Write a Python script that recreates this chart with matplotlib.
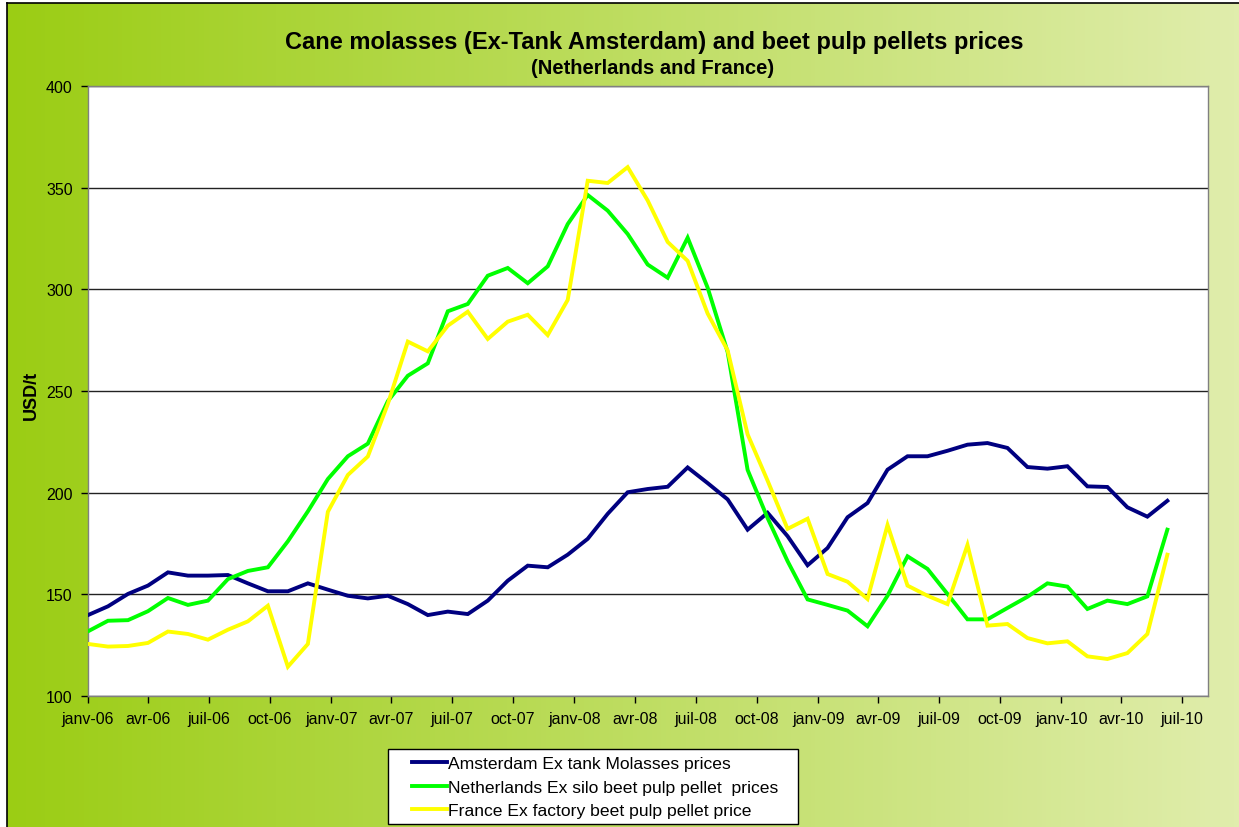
import numpy as np
import pandas as pd
import matplotlib
matplotlib.use("Agg")
import matplotlib.pyplot as plt
from matplotlib.lines import Line2D
from matplotlib.patches import Rectangle

plt.rcParams['font.family'] = ['Liberation Sans', 'DejaVu Sans']

# Données (USD/t), un point tous les ~30 jours depuis janv-06
dates = pd.date_range('2006-01-01', periods=55, freq='30D')

molasses_ams = [139.8, 144.1, 150.2, 154.3, 160.8, 159.2, 159.2, 159.5, 155.4, 151.5,
                151.5, 155.4, 152.3, 149.3, 148.0, 149.3, 145.2, 139.8, 141.5, 140.3,
                146.9, 156.7, 164.1, 163.3, 169.5, 177.3, 189.6, 200.2, 201.8, 202.9,
                212.4, 204.7, 196.7, 181.8, 190.1, 178.6, 164.3, 172.8, 187.9, 194.9,
                211.3, 217.9, 217.9, 220.6, 223.6, 224.4, 222.0, 212.6, 211.8, 213.0,
                203.1, 202.8, 192.8, 188.2, 196.0]

pulp_nl = [131.8, 137.0, 137.3, 141.7, 148.2, 144.8, 146.9, 157.5, 161.5, 163.3,
           176.1, 190.8, 206.7, 217.9, 224.1, 245.0, 257.5, 263.6, 289.2, 292.8,
           306.7, 310.5, 303.0, 311.3, 332.1, 346.4, 338.7, 327.2, 312.2, 305.7,
           325.4, 300.8, 269.2, 211.2, 187.5, 166.3, 147.5, 144.8, 142.0, 134.3,
           149.3, 168.7, 162.5, 150.2, 137.7, 137.7, 143.3, 148.8, 155.4, 153.8,
           142.8, 146.9, 145.2, 149.0, 181.8]

pulp_fr = [125.6, 124.3, 124.6, 126.1, 131.7, 130.5, 127.7, 132.6, 136.7, 144.4,
           114.4, 125.6, 190.6, 208.7, 217.8, 243.6, 274.3, 269.5, 282.1, 289.0,
           275.6, 284.1, 287.5, 277.5, 294.8, 353.4, 352.3, 360.1, 343.7, 323.3,
           314.0, 288.1, 270.0, 228.7, 205.9, 182.2, 187.2, 160.0, 156.2, 147.7,
           184.1, 154.3, 149.3, 145.2, 174.3, 134.6, 135.4, 128.5, 125.9, 126.9,
           119.5, 118.2, 121.1, 130.5, 169.5]

tick_dates = pd.date_range('2006-01-01', '2010-07-01', freq='3MS')
tick_labels = ['janv-06', 'avr-06', 'juil-06', 'oct-06',
               'janv-07', 'avr-07', 'juil-07', 'oct-07',
               'janv-08', 'avr-08', 'juil-08', 'oct-08',
               'janv-09', 'avr-09', 'juil-09', 'oct-09',
               'janv-10', 'avr-10', 'juil-10']

noms = ['Amsterdam Ex tank Molasses prices',
        'Netherlands Ex silo beet pulp pellet  prices',
        'France Ex factory beet pulp pellet price']
couleurs = ['#000080', '#00FF00', '#FFFF00']

W, H = 1239, 828
fig = plt.figure(figsize=(W / 100, H / 100), dpi=100)
fig.patch.set_facecolor('white')

# fond en dégradé vert
bg = fig.add_axes([7 / W, 0, 1 - 7 / W, 1 - 4 / H], zorder=-5)
c1 = np.array([155, 205, 20]) / 255
c2 = np.array([224, 237, 172]) / 255
t = np.linspace(0, 1, 256)
grad = (c1[None, :] * (1 - t[:, None]) + c2[None, :] * t[:, None])[None, :, :]
bg.imshow(grad, aspect='auto', extent=[0, 1, 0, 1])
bg.set_xlim(0, 1)
bg.set_ylim(0, 1)
bg.axis('off')
fig.add_artist(Line2D([7 / W, 7 / W], [0, 1 - 4 / H], color='black', lw=1.2, transform=fig.transFigure))
fig.add_artist(Line2D([7 / W, 1], [1 - 4 / H, 1 - 4 / H], color='black', lw=1.2, transform=fig.transFigure))

ax = fig.add_axes([88 / W, 1 - 697 / H, (1208 - 88) / W, (697 - 87) / H])
ax.set_facecolor('white')

series = [molasses_ams, pulp_nl, pulp_fr]
for vals, nom, c in zip(series, noms, couleurs):
    ax.plot(dates, vals, color=c, lw=2.8, label=nom, solid_joinstyle='miter', zorder=3)

ax.set_ylim(100, 400)
ax.set_yticks(np.arange(100, 401, 50))
ax.set_xlim(pd.Timestamp('2006-01-01'), pd.Timestamp('2010-08-09'))
ax.set_xticks(tick_dates)
ax.set_xticklabels(tick_labels)
ax.grid(axis='y', color='#222222', lw=1)
ax.set_axisbelow(True)
for s in ax.spines.values():
    s.set_color('#808080')
    s.set_linewidth(1)
ax.tick_params(axis='both', labelsize=11.5, colors='black', direction='out', length=5, width=1)
ax.tick_params(axis='y', pad=6)
ax.tick_params(axis='x', pad=6)

fig.text(31 / W, 1 - 395 / H, 'USD/t', rotation=90, ha='center', va='center',
         fontsize=13, fontweight='bold')

fig.text(654 / W, 1 - 42 / H, 'Cane molasses (Ex-Tank Amsterdam) and beet pulp pellets prices',
         ha='center', va='center', fontsize=17, fontweight='bold')
fig.text(653 / W, 1 - 68 / H, '(Netherlands and France)',
         ha='center', va='center', fontsize=14.5, fontweight='bold')

# cadre de la légende
fig.add_artist(Rectangle((388 / W, 1 - 825 / H), (798 - 388) / W, (825 - 750) / H,
                         transform=fig.transFigure, facecolor='white', edgecolor='black',
                         lw=1, zorder=4))
leg = fig.legend(loc='center', bbox_to_anchor=(595 / W, 1 - 788 / H), fontsize=12.6,
                 frameon=False, handlelength=2.0, handletextpad=0.1, labelspacing=0.46,
                 borderpad=0)
leg.set_zorder(5)

fig.savefig('out.png', dpi=100)
